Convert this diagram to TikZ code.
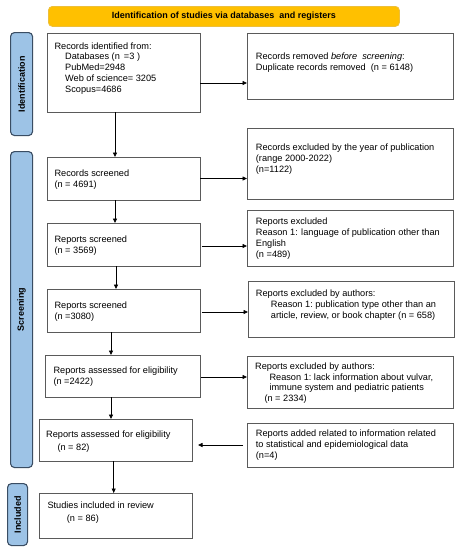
\documentclass[tikz,border=0pt]{standalone}
\usepackage{fontspec}
\setmainfont{Liberation Sans}
\usepackage{tikz}
\usetikzlibrary{arrows.meta}
\usetikzlibrary{positioning}

\definecolor{bannerfill}{HTML}{FFC000}
\definecolor{bannerdraw}{HTML}{EDBF3A}
\definecolor{tabfill}{HTML}{9DC3E6}
\definecolor{tabdraw}{HTML}{3A4D63}
\definecolor{boxdraw}{HTML}{5A5A5A}

\begin{document}
\begin{tikzpicture}[x=1pt, y=-1pt,
        box_style/.style={draw=boxdraw, line width=0.9pt, fill=white, anchor=north west, inner sep=0pt, outer sep=0pt},
        tab_style/.style={draw=tabdraw, fill=tabfill, line width=1.1pt, rounded corners=4pt, anchor=north west, inner sep=0pt},
        tab_text/.style={rotate=90, font=\fontsize{9}{11}\selectfont\bfseries},
        text_style/.style={anchor=north west, inner sep=0pt, align=left, font=\fontsize{9.2}{10.8}\selectfont},
        arrow_style/.style={draw=black, line width=0.8pt, -{Triangle[length=4.5pt, width=4pt]}}]

        \useasboundingbox (0,0) rectangle (459,550);

        % banner and side tabs
        \node [draw=bannerdraw, fill=bannerfill, line width=0.8pt, rounded corners=4pt, anchor=north west,
            minimum width=351pt, minimum height=20pt] (banner_box) at (48,6) {};
        \node [font=\fontsize{9}{11}\selectfont\bfseries] (banner) at (banner_box.center) {Identification of studies via databases\ \ and registers};

        \node [tab_style, minimum width=22pt, minimum height=103pt] (tab_i) at (10,32) {};
        \node [tab_text] (tab_ident) at (tab_i.center) {Identification};
        \node [tab_style, minimum width=22pt, minimum height=316pt] (tab_s) at (10,151) {};
        \node [tab_text] (tab_screen) at (tab_s.center) {Screening};
        \node [tab_style, minimum width=20pt, minimum height=62pt] (tab_c) at (7,483) {};
        \node [tab_text] (tab_incl) at (tab_c.center) {Included};

        % left column
        \node [box_style, minimum width=153pt, minimum height=79pt] (b1) at (47,33) {};
        \node [box_style, minimum width=153pt, minimum height=43pt] (b2) at (47,157) {};
        \node [box_style, minimum width=153pt, minimum height=43pt] (b3) at (47,223) {};
        \node [box_style, minimum width=153pt, minimum height=43pt] (b4) at (47,289) {};
        \node [box_style, minimum width=155pt, minimum height=42pt] (b5) at (45,355) {};
        \node [box_style, minimum width=153pt, minimum height=42pt] (b6) at (39,419) {};
        \node [box_style, minimum width=153pt, minimum height=45pt] (b7) at (39,493) {};

        % right column
        \node [box_style, minimum width=206pt, minimum height=66pt] (r1) at (247,33) {};
        \node [box_style, minimum width=206pt, minimum height=71pt] (r2) at (247,128) {};
        \node [box_style, minimum width=206pt, minimum height=56pt] (r3) at (247,210) {};
        \node [box_style, minimum width=206pt, minimum height=56pt] (r4) at (248,281) {};
        \node [box_style, minimum width=206pt, minimum height=52pt] (r5) at (247,356) {};
        \node [box_style, minimum width=206pt, minimum height=44pt] (r6) at (247,423) {};

        % texts
        \node [text_style] (t_b1) at (54.3,42.3) {Records identified from:\\
            \hspace*{10.7pt}Databases (n \,=3 )\\
            \hspace*{10.7pt}PubMed=2948\\
            \hspace*{10.7pt}Web of science= 3205\\
            \hspace*{10.7pt}Scopus=4686};
        \node [text_style] (t_b2) at (54.3,169.5) {Records screened\\(n = 4691)};
        \node [text_style] (t_b3) at (54.3,235.5) {Reports screened\\(n = 3569)};
        \node [text_style] (t_b4) at (54.3,302) {Reports screened\\(n =3080)};
        \node [text_style] (t_b5) at (53.3,367) {Reports assessed for eligibility\\(n =2422)};
        \node [text_style] (t_b6) at (46,431) {Reports assessed for eligibility\\[2pt]
            \hspace*{11.3pt}(n = 82)};
        \node [text_style] (t_b7) at (47.3,501.5) {Studies included in review\\[2.5pt]
            \hspace*{19.4pt}(n = 86)};

        \node [text_style] (t_r1) at (255.7,52.5) {Records removed \textit{before\ \ screening}:\\
            Duplicate records removed\ \ (n = 6148)};
        \node [text_style] (t_r2) at (255.7,144) {Records excluded by the year of publication\\
            (range 2000-2022)\\(n=1122)};
        \node [text_style] (t_r3) at (255.7,218) {Reports excluded\\
            Reason 1: language of publication other than\\English\\(n =489)};
        \node [text_style] (t_r4) at (255.7,290) {Reports excluded by authors:\\
            \hspace*{15pt}Reason 1:\ publication type other than an\\
            \hspace*{15pt}article, review, or book chapter (n = 658)};
        \node [text_style] (t_r5) at (255,362.5) {Reports excluded by authors:\\
            \hspace*{14.3pt}Reason 1:\ lack information about vulvar,\\
            \hspace*{14.3pt}immune\ system and pediatric patients\\
            \hspace*{9.3pt}(n = 2334)};
        \node [text_style] (t_r6) at (255.7,430) {Reports added related to information related\\
            to statistical and epidemiological data\\(n=4)};

        % connectors
        \draw [arrow_style] (b1.east |- 0,83) -- (r1.west |- 0,83);
        \draw [arrow_style] (b2.east) -- (b2.east -| r2.west);
        \draw [arrow_style] ([xshift=1.5pt]b3.east |- 0,246) -- (r3.west |- 0,246);
        \draw [arrow_style] ([xshift=1.5pt]b4.east |- 0,312) -- (r4.west |- 0,312);
        \draw [arrow_style] ([xshift=1pt]b5.east |- 0,377) -- (r5.west |- 0,377);
        \draw [arrow_style] ([xshift=-4pt]r6.west) -- ([xshift=6pt]r6.west -| b6.east);

        \draw [arrow_style] (b1.south -| 115,0) -- (b2.north -| 115,0);
        \draw [arrow_style] (b2.south -| 115,0) -- (b3.north -| 115,0);
        \draw [arrow_style] (b3.south -| 116,0) -- (b4.north -| 116,0);
        \draw [arrow_style] (b4.south -| 111,0) -- (b5.north -| 111,0);
        \draw [arrow_style] (b5.south -| 111,0) -- (b6.north -| 111,0);
        \draw [arrow_style] (b6.south -| 113.7,0) -- (b7.north -| 113.7,0);

\end{tikzpicture}
\end{document}
